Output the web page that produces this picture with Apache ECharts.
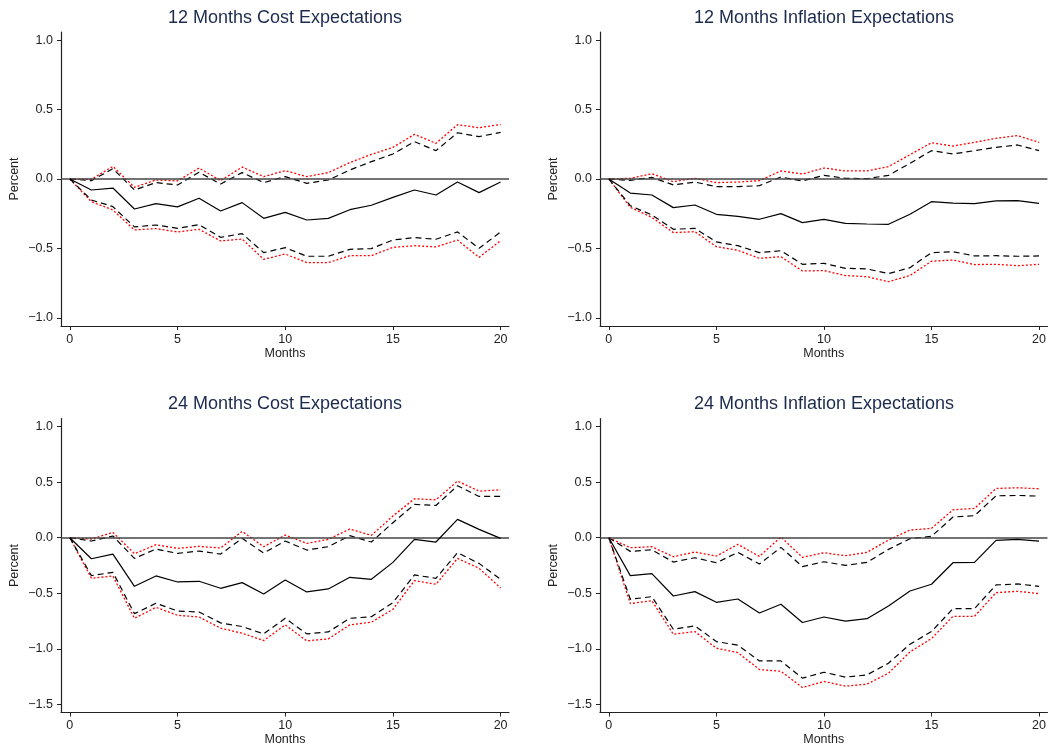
<!DOCTYPE html>
<html>
<head>
<meta charset="utf-8">
<script src="https://cdn.jsdelivr.net/npm/echarts@6/dist/echarts.min.js"></script>
<style>
html,body{margin:0;padding:0;background:#fff;}
#chart{width:1049px;height:750px;}
</style>
</head>
<body>
<div id="chart"></div>
<script>
// ---------- DATA ----------
const months = [0,1,2,3,4,5,6,7,8,9,10,11,12,13,14,15,16,17,18,19,20];
const panelTitles = ["12 Months Cost Expectations","12 Months Inflation Expectations","24 Months Cost Expectations","24 Months Inflation Expectations"];
const xTicks = [0,5,10,15,20];
const yTicksTop = [-1,-0.5,0,0.5,1];
const yTicksBottom = [-1.5,-1,-0.5,0,0.5,1];

// Panel 1: 12 Months Cost Expectations
const cost12_irf   = [0,-0.079,-0.065,-0.216,-0.177,-0.201,-0.139,-0.230,-0.170,-0.283,-0.240,-0.295,-0.283,-0.221,-0.189,-0.132,-0.079,-0.115,-0.022,-0.098,-0.022];
const cost12_up90  = [0,-0.012,0.074,-0.079,-0.026,-0.043,0.048,-0.036,0.046,-0.026,0.017,-0.031,-0.007,0.065,0.125,0.180,0.269,0.204,0.333,0.305,0.336];
const cost12_up95  = [0,-0.002,0.091,-0.060,-0.007,-0.014,0.079,-0.012,0.086,0.017,0.060,0.017,0.046,0.118,0.177,0.228,0.321,0.257,0.391,0.369,0.393];
const cost12_lo90  = [0,-0.151,-0.199,-0.345,-0.331,-0.355,-0.329,-0.420,-0.393,-0.530,-0.494,-0.556,-0.556,-0.506,-0.501,-0.439,-0.422,-0.434,-0.381,-0.499,-0.381];
const cost12_lo95  = [0,-0.163,-0.223,-0.367,-0.357,-0.381,-0.362,-0.446,-0.432,-0.578,-0.540,-0.602,-0.602,-0.552,-0.552,-0.492,-0.480,-0.489,-0.439,-0.564,-0.444];

// Panel 2: 12 Months Inflation Expectations
const infl12_irf   = [0,-0.101,-0.115,-0.206,-0.187,-0.254,-0.269,-0.290,-0.249,-0.314,-0.290,-0.319,-0.324,-0.326,-0.254,-0.163,-0.173,-0.177,-0.158,-0.156,-0.175];
const infl12_up90  = [0,-0.010,0.012,-0.043,-0.022,-0.055,-0.055,-0.048,0.014,-0.014,0.026,0.005,0.002,0.026,0.113,0.204,0.180,0.204,0.228,0.245,0.204];
const infl12_up95  = [0,0.005,0.038,-0.019,0.005,-0.026,-0.022,-0.012,0.058,0.036,0.079,0.058,0.058,0.089,0.175,0.261,0.237,0.264,0.293,0.312,0.264];
const infl12_lo90  = [0,-0.192,-0.259,-0.362,-0.355,-0.453,-0.480,-0.530,-0.516,-0.614,-0.607,-0.643,-0.647,-0.681,-0.638,-0.530,-0.523,-0.554,-0.552,-0.556,-0.554];
const infl12_lo95  = [0,-0.204,-0.276,-0.386,-0.379,-0.487,-0.513,-0.571,-0.559,-0.662,-0.659,-0.695,-0.703,-0.739,-0.695,-0.592,-0.583,-0.616,-0.614,-0.624,-0.614];

// Panel 3: 24 Months Cost Expectations
const cost24_irf   = [0,-0.189,-0.147,-0.437,-0.344,-0.398,-0.392,-0.455,-0.404,-0.506,-0.380,-0.488,-0.461,-0.356,-0.374,-0.222,-0.015,-0.039,0.165,0.075,-0.006];
const cost24_up90  = [0,-0.030,0.015,-0.186,-0.102,-0.141,-0.120,-0.147,-0.006,-0.138,-0.030,-0.111,-0.081,0.018,-0.039,0.135,0.299,0.290,0.467,0.371,0.371];
const cost24_up95  = [0,-0.012,0.048,-0.144,-0.063,-0.096,-0.078,-0.093,0.057,-0.081,0.024,-0.051,-0.015,0.078,0.021,0.195,0.350,0.341,0.509,0.419,0.431];
const cost24_lo90  = [0,-0.341,-0.311,-0.683,-0.590,-0.659,-0.668,-0.766,-0.799,-0.865,-0.725,-0.865,-0.847,-0.725,-0.710,-0.584,-0.335,-0.365,-0.135,-0.231,-0.374];
const cost24_lo95  = [0,-0.365,-0.344,-0.725,-0.626,-0.698,-0.713,-0.814,-0.859,-0.925,-0.784,-0.928,-0.910,-0.784,-0.760,-0.644,-0.386,-0.419,-0.186,-0.275,-0.452];

// Panel 4: 24 Months Inflation Expectations
const infl24_irf   = [0,-0.341,-0.323,-0.524,-0.485,-0.581,-0.551,-0.677,-0.599,-0.763,-0.713,-0.751,-0.728,-0.614,-0.479,-0.419,-0.225,-0.222,-0.024,-0.015,-0.030];
const infl24_up90  = [0,-0.123,-0.108,-0.219,-0.180,-0.225,-0.132,-0.237,-0.087,-0.260,-0.216,-0.249,-0.222,-0.105,-0.009,0.012,0.186,0.198,0.377,0.380,0.374];
const infl24_up95  = [0,-0.090,-0.081,-0.171,-0.129,-0.165,-0.060,-0.168,0.006,-0.177,-0.135,-0.162,-0.132,-0.021,0.069,0.084,0.251,0.263,0.443,0.449,0.440];
const infl24_lo90  = [0,-0.554,-0.530,-0.823,-0.793,-0.934,-0.967,-1.108,-1.108,-1.263,-1.210,-1.254,-1.234,-1.129,-0.958,-0.844,-0.638,-0.638,-0.425,-0.416,-0.437];
const infl24_lo95  = [0,-0.593,-0.566,-0.868,-0.844,-0.994,-1.033,-1.186,-1.201,-1.347,-1.293,-1.335,-1.317,-1.219,-1.027,-0.907,-0.707,-0.707,-0.494,-0.482,-0.503];

// ---------- CHART ----------
const panels = [
  {irf:cost12_irf, up90:cost12_up90, up95:cost12_up95, lo90:cost12_lo90, lo95:cost12_lo95},
  {irf:infl12_irf, up90:infl12_up90, up95:infl12_up95, lo90:infl12_lo90, lo95:infl12_lo95},
  {irf:cost24_irf, up90:cost24_up90, up95:cost24_up95, lo90:cost24_lo90, lo95:cost24_lo95},
  {irf:infl24_irf, up90:infl24_up90, up95:infl24_up95, lo90:infl24_lo90, lo95:infl24_lo95}
];

const FONT = "Liberation Sans, Arial, Helvetica, sans-serif";
const gridBoxes = [
  {left:61,  top:32,    width:448, height:294},
  {left:600, top:32,    width:448, height:294},
  {left:61,  top:418.5, width:448, height:294},
  {left:600, top:418.5, width:448, height:294}
];
const yRanges = [
  {min:-1.058, max:1.058, ticks:yTicksTop},
  {min:-1.058, max:1.058, ticks:yTicksTop},
  {min:-1.572, max:1.072, ticks:yTicksBottom},
  {min:-1.572, max:1.072, ticks:yTicksBottom}
];

function fmt(v){
  const s = Math.abs(v).toFixed(1);
  return (v < 0 ? "\u2212" : "") + s;
}
function pairs(arr){ return months.map((m,i)=>[m, arr[i]]); }

const grids = [], xAxes = [], yAxes = [], series = [], graphics = [];
gridBoxes.forEach((g,i)=>{
  grids.push(Object.assign({containLabel:false}, g));
  xAxes.push({
    type:'value', gridIndex:i, min:-0.41, max:20.39,
    name:'Months', nameLocation:'middle', nameGap:21,
    nameTextStyle:{fontFamily:FONT, fontSize:12.5, color:'#222'},
    axisLine:{show:true, onZero:false, lineStyle:{color:'#222', width:1.2}},
    axisTick:{show:true, length:4, inside:false, customValues:xTicks, lineStyle:{color:'#222'}},
    axisLabel:{show:true, customValues:xTicks, margin:7, fontFamily:FONT, fontSize:12.5, color:'#222', formatter:v=>String(v)},
    splitLine:{show:false}
  });
  const yr = yRanges[i];
  yAxes.push({
    type:'value', gridIndex:i, min:yr.min, max:yr.max,
    name:'Percent', nameLocation:'middle', nameGap:40, nameRotate:90,
    nameTextStyle:{fontFamily:FONT, fontSize:12.5, color:'#222'},
    axisLine:{show:true, onZero:false, lineStyle:{color:'#222', width:1.2}},
    axisTick:{show:true, length:4, customValues:yr.ticks, lineStyle:{color:'#222'}},
    axisLabel:{show:true, customValues:yr.ticks, margin:8, fontFamily:FONT, fontSize:12.5, color:'#222', formatter:fmt},
    splitLine:{show:false}
  });
  const p = panels[i];
  const base = {type:'line', xAxisIndex:i, yAxisIndex:i, symbol:'none', silent:true, animation:false, smooth:false};
  series.push(Object.assign({}, base, {
    name:'irf', data:pairs(p.irf), z:5,
    lineStyle:{color:'#000', width:1.2, type:'solid'},
    markLine:{silent:true, symbol:'none', label:{show:false},
      lineStyle:{color:'#444', width:1.6, type:'solid'}, data:[{yAxis:0}], animation:false}
  }));
  series.push(Object.assign({}, base, {name:'up90', data:pairs(p.up90), z:4, lineStyle:{color:'#000', width:1.2, type:[6,4]}}));
  series.push(Object.assign({}, base, {name:'lo90', data:pairs(p.lo90), z:4, lineStyle:{color:'#000', width:1.2, type:[6,4]}}));
  series.push(Object.assign({}, base, {name:'up95', data:pairs(p.up95), z:3, lineStyle:{color:'#ff0000', width:1.3, type:[2,2]}}));
  series.push(Object.assign({}, base, {name:'lo95', data:pairs(p.lo95), z:3, lineStyle:{color:'#ff0000', width:1.3, type:[2,2]}}));
  graphics.push({
    type:'text', x:g.left + g.width/2, y:g.top - 23,
    style:{text:panelTitles[i], textAlign:'center', textVerticalAlign:'top', font:'18px ' + FONT, fill:'#1c2a4e'}
  });
});

const chart = echarts.init(document.getElementById('chart'), null, {renderer:'canvas'});
chart.setOption({
  animation:false,
  backgroundColor:'#fff',
  grid:grids, xAxis:xAxes, yAxis:yAxes, series:series, graphic:graphics
});
</script>
</body>
</html>
